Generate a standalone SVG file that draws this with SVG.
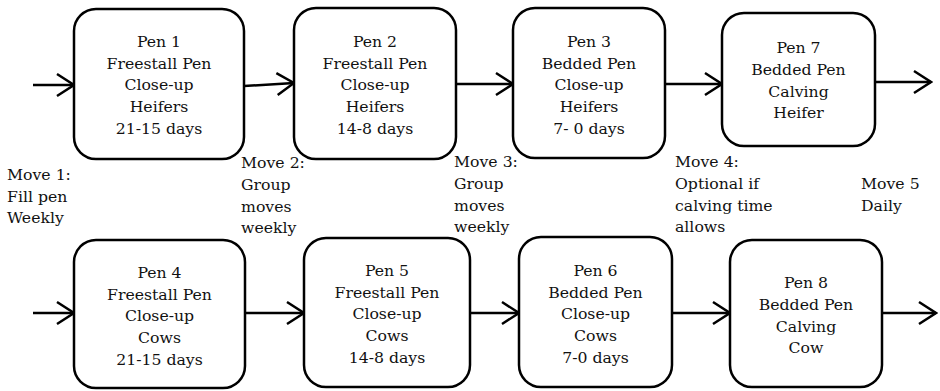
<svg xmlns="http://www.w3.org/2000/svg" width="940" height="391" viewBox="0 0 940 391">
<style>
.box{fill:#fff;stroke:#000;stroke-width:2.5}
.t{font-family:"DejaVu Serif","Liberation Serif",serif;font-size:15.7px;fill:#111}
.c{text-anchor:middle}
.ln{stroke:#000;stroke-width:2.5;fill:none;marker-end:url(#ah)}
</style>
<defs>
<marker id="ah" markerUnits="userSpaceOnUse" viewBox="0 0 20 26" markerWidth="20" markerHeight="26" refX="18.5" refY="13" orient="auto">
<path d="M1.5,2 L18.5,13 L1.5,24" fill="none" stroke="#000" stroke-width="2.5"/>
</marker>
</defs>
<rect width="940" height="391" fill="#fff"/>
<g id="connectors">
<line class="ln" x1="33" y1="85" x2="74" y2="85"/>
<line class="ln" x1="244" y1="86" x2="294" y2="83"/>
<line class="ln" x1="456" y1="84" x2="513" y2="84"/>
<line class="ln" x1="665" y1="84" x2="722" y2="84"/>
<line class="ln" x1="875" y1="82" x2="931" y2="82"/>
<line class="ln" x1="33" y1="313" x2="74" y2="313"/>
<line class="ln" x1="245" y1="313" x2="304" y2="313"/>
<line class="ln" x1="470" y1="313" x2="519" y2="313"/>
<line class="ln" x1="672" y1="313" x2="730" y2="313"/>
<line class="ln" x1="882" y1="313" x2="936" y2="313"/>
</g>
<g id="pen1">
<rect class="box" x="74" y="9" width="170" height="150" rx="22"/>
<text class="t c" x="159" y="47">Pen 1</text>
<text class="t c" x="159" y="68.5">Freestall Pen</text>
<text class="t c" x="159" y="90">Close-up</text>
<text class="t c" x="159" y="112">Heifers</text>
<text class="t c" x="159" y="134">21-15 days</text>
</g>
<g id="pen2">
<rect class="box" x="294" y="8" width="162" height="151" rx="22"/>
<text class="t c" x="375" y="47">Pen 2</text>
<text class="t c" x="375" y="68.5">Freestall Pen</text>
<text class="t c" x="375" y="90">Close-up</text>
<text class="t c" x="375" y="112">Heifers</text>
<text class="t c" x="375" y="134">14-8 days</text>
</g>
<g id="pen3">
<rect class="box" x="513" y="8" width="152" height="150" rx="22"/>
<text class="t c" x="589" y="47">Pen 3</text>
<text class="t c" x="589" y="68.5">Bedded Pen</text>
<text class="t c" x="589" y="90">Close-up</text>
<text class="t c" x="589" y="112">Heifers</text>
<text class="t c" x="589" y="134">7- 0 days</text>
</g>
<g id="pen7">
<rect class="box" x="722" y="13" width="153" height="133" rx="22"/>
<text class="t c" x="798.5" y="53">Pen 7</text>
<text class="t c" x="798.5" y="75">Bedded Pen</text>
<text class="t c" x="798.5" y="97">Calving</text>
<text class="t c" x="798.5" y="118">Heifer</text>
</g>
<g id="pen4">
<rect class="box" x="74" y="240" width="171" height="148" rx="22"/>
<text class="t c" x="159.5" y="278">Pen 4</text>
<text class="t c" x="159.5" y="299.5">Freestall Pen</text>
<text class="t c" x="159.5" y="321">Close-up</text>
<text class="t c" x="159.5" y="343">Cows</text>
<text class="t c" x="159.5" y="365">21-15 days</text>
</g>
<g id="pen5">
<rect class="box" x="304" y="238" width="166" height="149" rx="22"/>
<text class="t c" x="387" y="276">Pen 5</text>
<text class="t c" x="387" y="297.5">Freestall Pen</text>
<text class="t c" x="387" y="319">Close-up</text>
<text class="t c" x="387" y="341">Cows</text>
<text class="t c" x="387" y="363">14-8 days</text>
</g>
<g id="pen6">
<rect class="box" x="519" y="237" width="153" height="150" rx="22"/>
<text class="t c" x="595.5" y="276">Pen 6</text>
<text class="t c" x="595.5" y="297.5">Bedded Pen</text>
<text class="t c" x="595.5" y="319">Close-up</text>
<text class="t c" x="595.5" y="341">Cows</text>
<text class="t c" x="595.5" y="363">7-0 days</text>
</g>
<g id="pen8">
<rect class="box" x="730" y="240" width="152" height="147" rx="22"/>
<text class="t c" x="806" y="288">Pen 8</text>
<text class="t c" x="806" y="310">Bedded Pen</text>
<text class="t c" x="806" y="332">Calving</text>
<text class="t c" x="806" y="353">Cow</text>
</g>
<g id="move1">
<text class="t" x="7" y="180">Move 1:</text>
<text class="t" x="7" y="202">Fill pen</text>
<text class="t" x="7" y="223">Weekly</text>
</g>
<g id="move2">
<text class="t" x="241" y="168">Move 2:</text>
<text class="t" x="241" y="190">Group</text>
<text class="t" x="241" y="212">moves</text>
<text class="t" x="241" y="233">weekly</text>
</g>
<g id="move3">
<text class="t" x="454" y="167">Move 3:</text>
<text class="t" x="454" y="189">Group</text>
<text class="t" x="454" y="211">moves</text>
<text class="t" x="454" y="232">weekly</text>
</g>
<g id="move4">
<text class="t" x="675" y="167">Move 4:</text>
<text class="t" x="675" y="189">Optional if</text>
<text class="t" x="675" y="211">calving time</text>
<text class="t" x="675" y="232">allows</text>
</g>
<g id="move5">
<text class="t" x="861" y="189">Move 5</text>
<text class="t" x="861" y="211">Daily</text>
</g>
</svg>
